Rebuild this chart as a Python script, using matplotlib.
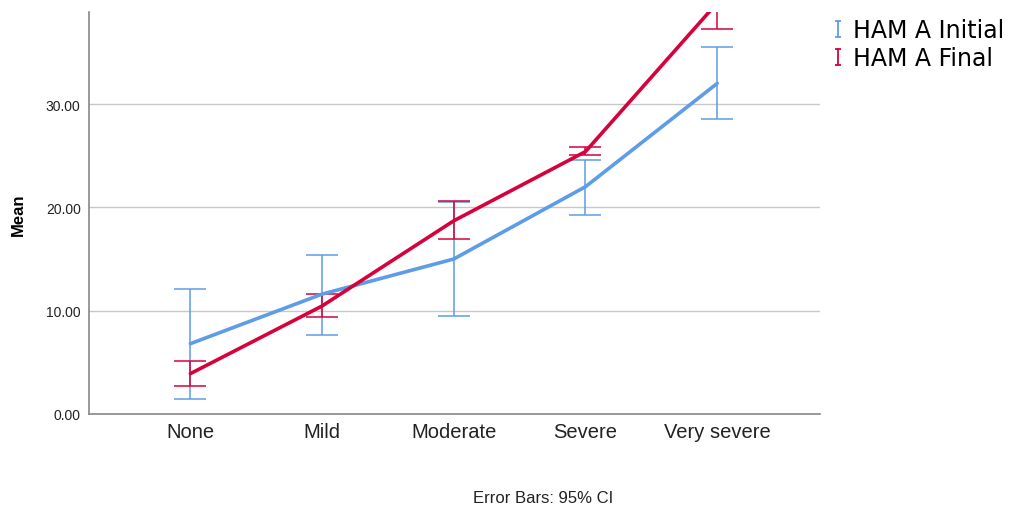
import matplotlib
matplotlib.use("Agg")
import matplotlib.pyplot as plt
from matplotlib.lines import Line2D
from matplotlib.path import Path

plt.rcParams['font.family'] = ['Liberation Sans', 'DejaVu Sans']

# severity groups and HAM-A means with 95% CI bounds
categories = ['None', 'Mild', 'Moderate', 'Severe', 'Very severe']
initial_mean = [6.8, 11.6, 15.0, 22.0, 32.0]
initial_low = [1.45, 7.65, 9.5, 19.3, 28.6]
initial_high = [12.1, 15.4, 20.5, 24.6, 35.5]
final_mean = [3.9, 10.45, 18.7, 25.4, 39.8]
final_low = [2.7, 9.4, 16.9, 25.1, 37.3]
final_high = [5.1, 11.6, 20.6, 25.8, 42.3]

blue = '#5d9ce6'
red = '#d6023c'

fig = plt.figure(figsize=(10.11, 5.06), dpi=100)
ax = fig.add_axes([0.088, 0.180, 0.723, 0.794])

x = list(range(len(categories)))

def draw_series(mean, low, high, color):
    err = [[m - l for m, l in zip(mean, low)], [h - m for m, h in zip(mean, high)]]
    ax.errorbar(x, mean, yerr=err, fmt='none', ecolor=color, elinewidth=1.1,
                capsize=11.5, capthick=1.1, zorder=3)
    ax.plot(x, mean, color=color, lw=2.6, zorder=4, solid_capstyle='round')

draw_series(initial_mean, initial_low, initial_high, blue)
draw_series(final_mean, final_low, final_high, red)

ax.set_xlim(-0.77, 4.78)
ax.set_ylim(0, 38.9)
ax.set_yticks([0, 10, 20, 30])
ax.set_yticklabels(['0.00', '10.00', '20.00', '30.00'], fontsize=10, color='#222222')
ax.set_xticks(x)
ax.set_xticklabels(categories, fontsize=14.5, color='#222222')
ax.tick_params(axis='y', length=0, pad=6)
ax.tick_params(axis='x', length=0, pad=6)

ax.grid(axis='y', color='#c8c8c8', lw=1.0)
ax.set_axisbelow(True)
for side in ['top', 'right']:
    ax.spines[side].set_visible(False)
for side in ['left', 'bottom']:
    ax.spines[side].set_color('#888888')
    ax.spines[side].set_linewidth(1.2)

fig.text(0.018, 0.575, 'Mean', rotation=90, ha='center', va='center',
         fontsize=12, fontweight='bold')
fig.text(0.537, 0.0, 'Error Bars: 95% CI', ha='center', va='bottom', fontsize=12,
         color='#222222')

# small "I" error-bar glyph for the legend
ibar = Path([(-0.4, 1), (0.4, 1), (0, 1), (0, -1), (-0.4, -1), (0.4, -1)],
            [Path.MOVETO, Path.LINETO, Path.MOVETO, Path.LINETO, Path.MOVETO, Path.LINETO])
handles = [Line2D([], [], ls='none', marker=ibar, markersize=12, markeredgewidth=1.3,
                  markerfacecolor='none', markeredgecolor=c)
           for c in (blue, red)]
fig.legend(handles=handles, labels=['HAM A Initial', 'HAM A Final'], loc='upper left',
           bbox_to_anchor=(0.823, 0.962), frameon=False,
           prop={'family': 'DejaVu Sans', 'size': 17}, borderpad=0, borderaxespad=0,
           handlelength=0.5, handletextpad=0.4, labelspacing=0.16)

fig.savefig('out.png', dpi=100)
